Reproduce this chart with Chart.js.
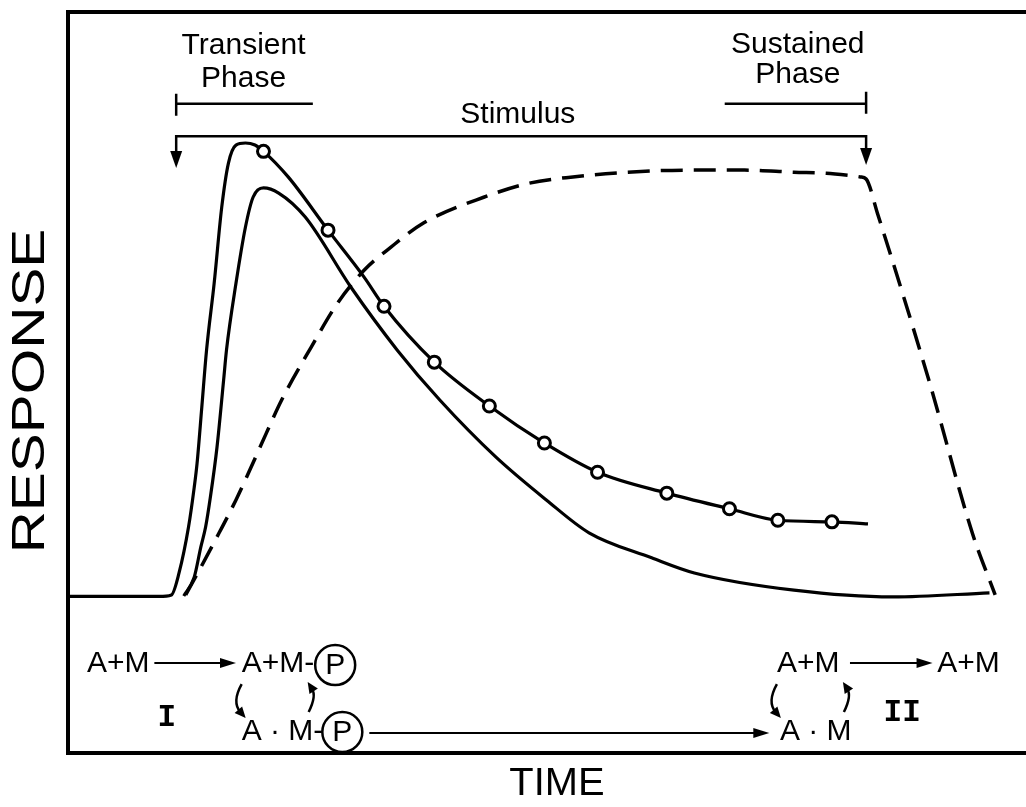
<!DOCTYPE html>
<html>
<head>
<meta charset="utf-8">
<script src="https://cdn.jsdelivr.net/npm/chart.js@4.4.0/dist/chart.umd.min.js"></script>
<style>
  body { margin: 0; background: #fff; }
  #wrap { width: 1026px; height: 807px; }
</style>
</head>
<body>
<div id="wrap"><canvas id="myChart" width="1026" height="807"></canvas></div>
<script>
// time in arbitrary units (0-100), response in arbitrary units (0 = resting level)
const upperTime = [0, 9.6, 10.9, 11.7, 12.7, 13.3, 13.6, 14.1, 14.6, 15.4, 16.2, 16.9, 17.7, 18.7, 19.7, 20.6, 23.2, 27.4, 31.2, 33.3, 38.6, 44.4, 50.2, 55.8, 63.1, 69.7, 74.8, 80.5, 84.3]
const upperResp = [0, 0, 0.3, 4.5, 13.3, 20.9, 25.5, 36.3, 47.2, 60.0, 74.6, 83.0, 86.5, 86.9, 86.5, 85.3, 80.4, 70.2, 61.2, 55.6, 44.9, 36.5, 29.4, 23.8, 19.8, 16.8, 14.6, 14.3, 13.9]

// open circles sitting on the upper curve
const circleTime = [20.6, 27.4, 33.3, 38.6, 44.4, 50.2, 55.8, 63.1, 69.7, 74.8, 80.5]
const circleResp = [85.3, 70.2, 55.6, 44.9, 36.5, 29.4, 23.8, 19.8, 16.8, 14.6, 14.3]

const lowerTime = [12.2, 13.3, 14.0, 14.5, 15.0, 15.7, 16.4, 16.7, 17.7, 18.7, 19.5, 20.6, 22.2, 25.0, 29.8, 34.7, 39.2, 45.1, 50.4, 54.9, 61.5, 66.0, 76.5, 86.9, 97.1]
const lowerResp = [0.1, 3.7, 9.5, 13.3, 19.0, 28.6, 41.5, 47.2, 60.0, 70.8, 76.5, 78.3, 77.3, 72.7, 59.3, 47.2, 37.6, 26.7, 18.5, 12.2, 7.4, 4.5, 1.2, -0.1, 0.7]

// sustained (dashed) response
const dashTime = [12.4, 14.0, 15.9, 17.7, 19.3, 20.9, 22.5, 25.6, 28.4, 31.2, 34.0, 37.5, 43.8, 48.6, 53.2, 59.0, 65.3, 71.3, 76.5, 79.9, 82.2, 83.5, 84.1, 85.3, 90.8, 95.3, 97.7]
const dashResp = [0.3, 5.6, 12.1, 18.5, 24.8, 31.3, 37.6, 47.7, 56.2, 62.5, 66.9, 71.6, 76.5, 79.2, 80.4, 81.3, 81.7, 81.7, 81.3, 81.1, 80.7, 80.4, 80.0, 73.4, 40.9, 12.1, 0.3]

// stimulus and phase markers
const stimulusOn = 11.4
const stimulusOff = 84.1
const transientEnd = 25.8
const sustainedStart = 69.2
const stimulusLevel = 88.2
const arrowTipLevel = 82.1
const phaseLevel = 94.4

// reaction scheme rows below the resting level
const rowTop = -14.5
const rowBottom = -27.5

const toPoints = (xs, ys) => xs.map((x, i) => ({ x: x, y: ys[i] }))

const FONT = '"Liberation Sans", Arial, Helvetica, sans-serif'

function arrowHead(ctx, x, y, angle, len, half) {
    ctx.save()
    ctx.translate(x, y)
    ctx.rotate(angle)
    ctx.beginPath()
    ctx.moveTo(0, 0)
    ctx.lineTo(-len, -half)
    ctx.lineTo(-len, half)
    ctx.closePath()
    ctx.fill()
    ctx.restore()
}

function straightArrow(ctx, x0, x1, y) {
    ctx.lineWidth = 2
    ctx.beginPath()
    ctx.moveTo(x0, y)
    ctx.lineTo(x1 - 12, y)
    ctx.stroke()
    arrowHead(ctx, x1, y, 0, 16, 5)
}

function curvedArrow(ctx, x0, y0, cx, cy, x1, y1) {
    let angle = Math.atan2(y1 - cy, x1 - cx)
    let ex = x1 - Math.cos(angle) * 8
    let ey = y1 - Math.sin(angle) * 8
    ctx.lineWidth = 2.5
    ctx.beginPath()
    ctx.moveTo(x0, y0)
    ctx.quadraticCurveTo(cx, cy, ex, ey)
    ctx.stroke()
    arrowHead(ctx, x1, y1, angle, 11, 5)
}

function circledP(ctx, cx, cy) {
    ctx.lineWidth = 2.5
    ctx.beginPath()
    ctx.arc(cx, cy, 20, 0, Math.PI * 2)
    ctx.stroke()
    ctx.textAlign = "center"
    ctx.textBaseline = "middle"
    ctx.fillText("P", cx, cy + 1)
    ctx.textAlign = "left"
    ctx.textBaseline = "alphabetic"
}

const diagram = {
    id: "diagram",
    afterDatasetsDraw(chart) {
        const { ctx, chartArea: area } = chart
        const X = v => chart.scales.x.getPixelForValue(v)
        const Y = v => chart.scales.y.getPixelForValue(v)

        ctx.save()
        ctx.strokeStyle = "#000"
        ctx.fillStyle = "#000"

        // frame
        ctx.lineWidth = 4
        ctx.beginPath()
        ctx.moveTo(chart.width + 4, area.top)
        ctx.lineTo(area.left, area.top)
        ctx.lineTo(area.left, area.bottom)
        ctx.lineTo(chart.width + 4, area.bottom)
        ctx.stroke()

        // stimulus bracket with arrows
        let on = X(stimulusOn), off = X(stimulusOff)
        let sy = Y(stimulusLevel), tip = Y(arrowTipLevel)
        ctx.lineWidth = 2.5
        ctx.beginPath()
        ctx.moveTo(on, tip - 10)
        ctx.lineTo(on, sy)
        ctx.lineTo(off, sy)
        ctx.lineTo(off, tip - 10)
        ctx.stroke()
        arrowHead(ctx, on, tip, Math.PI / 2, 17, 6)
        arrowHead(ctx, off, tip - 3, Math.PI / 2, 17, 6)

        // phase brackets
        let py = Y(phaseLevel)
        ctx.lineWidth = 2.5
        ctx.beginPath()
        ctx.moveTo(on, py)
        ctx.lineTo(X(transientEnd), py)
        ctx.moveTo(on, py - 10)
        ctx.lineTo(on, py + 12)
        ctx.moveTo(X(sustainedStart), py)
        ctx.lineTo(off, py)
        ctx.moveTo(off, py - 12)
        ctx.lineTo(off, py + 10)
        ctx.stroke()

        ctx.font = "30px " + FONT
        ctx.textAlign = "center"
        ctx.fillText("Transient", X(18.5), 54)
        ctx.fillText("Phase", X(18.5), 87)
        ctx.fillText("Sustained", X(76.9), 53)
        ctx.fillText("Phase", X(76.9), 83)
        ctx.fillText("Stimulus", X(47.4), 123)
        ctx.textAlign = "left"

        // reaction scheme
        let r1 = Y(rowTop), r2 = Y(rowBottom)
        ctx.font = "30px " + FONT
        ctx.fillText("A+M", X(2.0), r1)
        straightArrow(ctx, X(9.1), X(17.7), r1 - 9)

        let g1 = X(18.3)
        ctx.fillText("A+M-", g1, r1)
        let p1 = g1 + ctx.measureText("A+M-").width + 21
        circledP(ctx, p1, r1 - 7)
        ctx.fillText("A \u00b7 M-", g1, r2)
        let p2 = g1 + ctx.measureText("A \u00b7 M-").width + 19
        circledP(ctx, p2, r2 - 8)
        straightArrow(ctx, p2 + 27, X(73.9), r2 - 7)

        let g2 = X(74.7)
        ctx.fillText("A+M", g2, r1)
        straightArrow(ctx, X(82.4), X(91.1), r1 - 9)
        ctx.fillText("A+M", X(91.6), r1)
        ctx.fillText("A \u00b7 M", g2 + 3, r2)

        for (let g of [g1, g2]) {
            curvedArrow(ctx, g, r1 + 12, g - 10, r1 + 30, g + 4, r2 - 22)
            curvedArrow(ctx, g + 67, r2 - 28, g + 75, r2 - 44, g + 66, r1 + 10)
        }

        ctx.font = "bold 31px \"Liberation Mono\", \"Courier New\", monospace"
        ctx.textAlign = "center"
        ctx.textBaseline = "middle"
        ctx.fillText("I", X(10.4), r1 + 46)
        ctx.fillText("II", X(87.9), r1 + 41)

        // axis titles
        ctx.font = "46px " + FONT
        ctx.save()
        ctx.translate(31, 391)
        ctx.rotate(-Math.PI / 2)
        ctx.scale(1.27, 1)
        ctx.fillText("RESPONSE", 0, 0)
        ctx.restore()

        ctx.save()
        ctx.font = "38px " + FONT
        ctx.translate(557, 785)
        ctx.scale(1.05, 1)
        ctx.fillText("TIME", 0, 0)
        ctx.restore()

        ctx.restore()
    }
}

const ctx = document.getElementById("myChart").getContext("2d")

const config = {
    type: "scatter",
    data: {
        datasets: [
            {
                label: "markers",
                data: toPoints(circleTime, circleResp),
                showLine: false,
                pointRadius: 6,
                pointBackgroundColor: "#fff",
                pointBorderColor: "#000",
                pointBorderWidth: 3
            },
            {
                label: "upper",
                data: toPoints(upperTime, upperResp),
                showLine: true,
                borderColor: "#000",
                borderWidth: 3.2,
                pointRadius: 0,
                cubicInterpolationMode: "monotone"
            },
            {
                label: "lower",
                data: toPoints(lowerTime, lowerResp),
                showLine: true,
                borderColor: "#000",
                borderWidth: 3.2,
                pointRadius: 0,
                cubicInterpolationMode: "monotone"
            },
            {
                label: "sustained",
                data: toPoints(dashTime, dashResp),
                showLine: true,
                borderColor: "#000",
                borderWidth: 3.5,
                borderDash: [22, 11],
                pointRadius: 0,
                cubicInterpolationMode: "monotone"
            }
        ]
    },
    options: {
        responsive: false,
        animation: false,
        layout: {
            padding: { left: 68, top: 12, right: 1, bottom: 54 }
        },
        plugins: {
            legend: { display: false },
            tooltip: { enabled: false }
        },
        scales: {
            x: { type: "linear", min: 0, max: 100, display: false },
            y: { type: "linear", min: -30, max: 112, display: false }
        }
    },
    plugins: [diagram]
}

const myChart = new Chart(ctx, config)
</script>
</body>
</html>
